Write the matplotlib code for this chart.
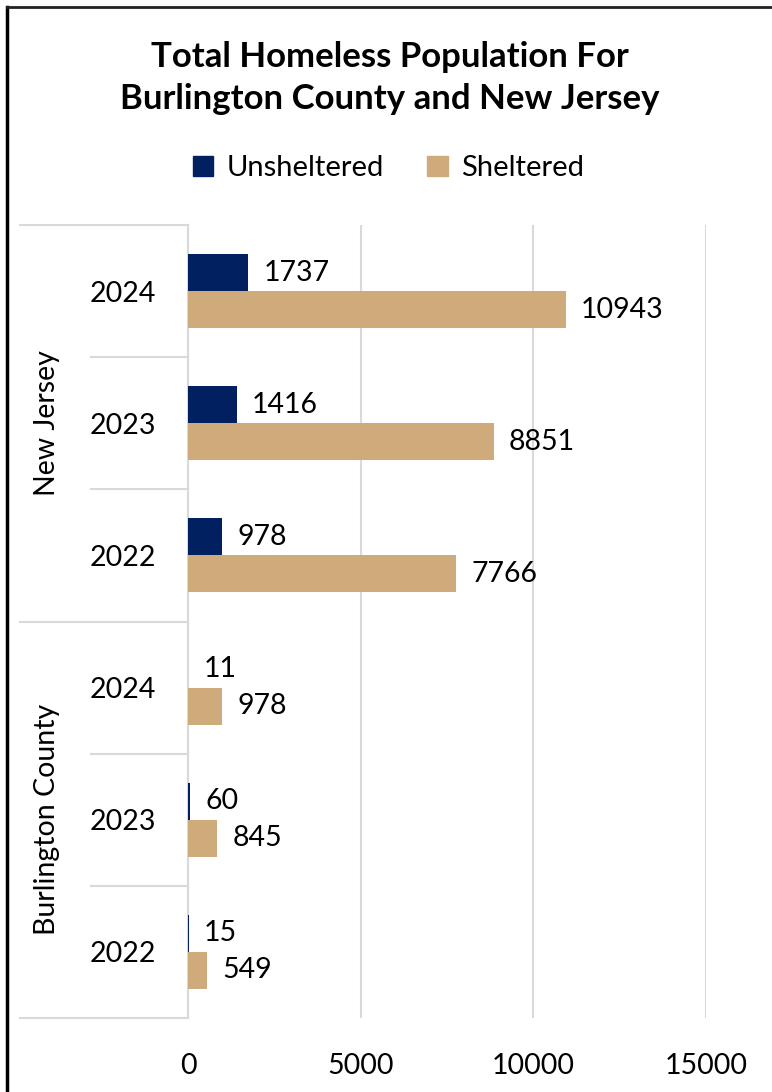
import matplotlib.pyplot as plt
from matplotlib.lines import Line2D
from matplotlib.patches import Patch
import matplotlib.transforms as mtransforms
import numpy as np

plt.rcParams['font.family'] = ['Lato', 'DejaVu Sans']

groups = ['New Jersey', 'Burlington County']
years = ['2024', '2023', '2022', '2024', '2023', '2022']
unsheltered = [1737, 1416, 978, 11, 60, 15]
sheltered = [10943, 8851, 7766, 978, 845, 549]

navy = '#002060'
tan = '#CFAA7A'
grid_col = '#D9D9D9'
fs = 20.5

W, H = 772, 1092
fig = plt.figure(figsize=(W / 100, H / 100), dpi=100)
ax = fig.add_axes([188 / W, 1 - 1018 / H, (706 - 188) / W, (1018 - 225) / H])

y = np.arange(len(years))
bh = 0.28
ax.barh(y - bh / 2, unsheltered, height=bh, color=navy, zorder=3)
ax.barh(y + bh / 2, sheltered, height=bh, color=tan, zorder=3)

for i in range(len(years)):
    ax.annotate(str(unsheltered[i]), (unsheltered[i], y[i] - bh / 2), xytext=(11, 0),
                textcoords='offset points', va='center', ha='left', fontsize=fs)
    ax.annotate(str(sheltered[i]), (sheltered[i], y[i] + bh / 2), xytext=(11, 0),
                textcoords='offset points', va='center', ha='left', fontsize=fs)

ax.set_xlim(0, 15000)
ax.set_ylim(len(years) - 0.5, -0.5)
ax.set_xticks([0, 5000, 10000, 15000])
ax.xaxis.grid(True, color=grid_col, lw=1.5, zorder=0)
ax.set_yticks(y)
ax.set_yticklabels(years, fontsize=fs)
ax.tick_params(axis='y', length=0, pad=23)
ax.tick_params(axis='x', length=0, pad=25, labelsize=fs)
for s in ['top', 'right', 'bottom']:
    ax.spines[s].set_visible(False)
ax.spines['left'].set_color(grid_col)
ax.spines['left'].set_linewidth(1.5)

# hierarchical category separators
tr = mtransforms.blended_transform_factory(ax.transAxes, ax.transData)
outer_x = (20 - 188) / (706 - 188)
inner_x = (91 - 188) / (706 - 188)
for yy in [-0.5, 2.5, 5.5]:
    ax.plot([outer_x, 0], [yy, yy], transform=tr, color=grid_col, lw=1.5, clip_on=False)
for yy in [0.5, 1.5, 3.5, 4.5]:
    ax.plot([inner_x, 0], [yy, yy], transform=tr, color=grid_col, lw=1.5, clip_on=False)
for gi, g in enumerate(groups):
    ax.text(-0.272, gi * 3 + 1, g, transform=tr, rotation=90, ha='center', va='center',
            fontsize=fs)

fig.text(0.505, 1 - 78 / H, 'Total Homeless Population For\nBurlington County and New Jersey',
         ha='center', va='center', fontsize=25, fontweight='bold', linespacing=1.38)

handles = [Patch(color=navy, label='Unsheltered'), Patch(color=tan, label='Sheltered')]
fig.legend(handles=handles, loc='center', bbox_to_anchor=(0.503, 1 - 168 / H), ncol=2,
           frameon=False, fontsize=21, handlelength=0.7, handleheight=0.7,
           handletextpad=0.45, columnspacing=1.5)

# chart frame (only left and top edges visible)
fig.add_artist(Line2D([7 / W, 7 / W], [0, 1 - 7 / H], color='black', lw=2.5,
                      transform=fig.transFigure))
fig.add_artist(Line2D([7 / W, 1], [1 - 7 / H, 1 - 7 / H], color='#222222', lw=2,
                      transform=fig.transFigure))

fig.savefig('out.png', dpi=100)
